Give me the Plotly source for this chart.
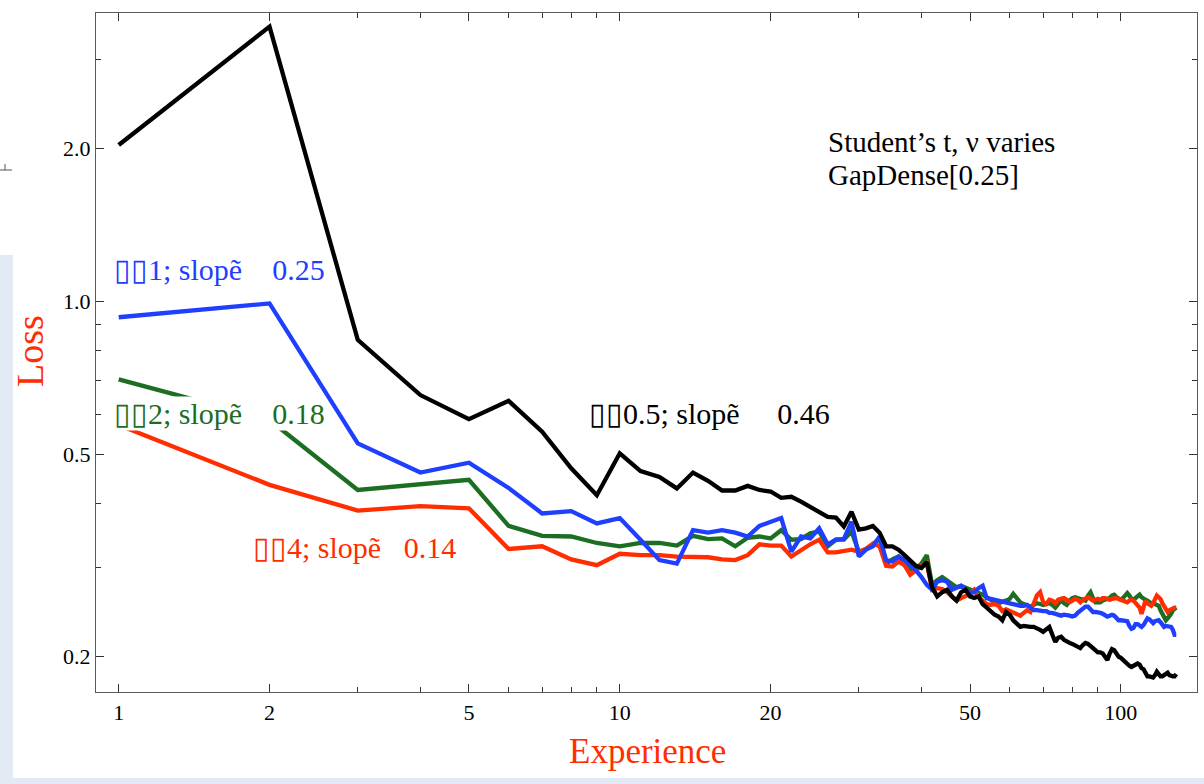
import plotly.graph_objects as go

# Loss curves versus experience, Student's t noise with varying degrees of freedom
nu_half = [
    2.035, 3.48, 0.841, 0.655, 0.587, 0.638, 0.555, 0.470, 0.416, 0.503,
    0.464, 0.452, 0.429, 0.461, 0.444, 0.425, 0.425, 0.434, 0.426, 0.423,
    0.411, 0.413, 0.404, 0.395, 0.386, 0.377, 0.376, 0.361, 0.386, 0.356,
    0.358, 0.362, 0.351, 0.330, 0.330, 0.325, 0.317, 0.310, 0.302, 0.299,
    0.307, 0.274, 0.263, 0.268, 0.271, 0.263, 0.258, 0.268, 0.271, 0.263,
    0.261, 0.263, 0.254, 0.250, 0.246, 0.242, 0.240, 0.236, 0.245, 0.242,
    0.236, 0.232, 0.229, 0.230, 0.229, 0.229, 0.229, 0.228, 0.226, 0.224,
    0.227, 0.229, 0.221, 0.214, 0.218, 0.219, 0.216, 0.214, 0.213, 0.212,
    0.211, 0.209, 0.208, 0.211, 0.213, 0.212, 0.210, 0.209, 0.207, 0.204,
    0.204, 0.203, 0.200, 0.197, 0.203, 0.207, 0.206, 0.203, 0.200, 0.199,
    0.197, 0.195, 0.194, 0.192, 0.191, 0.192, 0.194, 0.194, 0.193, 0.190,
    0.189, 0.186, 0.183, 0.183, 0.182, 0.182, 0.184, 0.187, 0.185, 0.183,
    0.183, 0.184, 0.185, 0.186, 0.184, 0.183, 0.183, 0.183, 0.185,
]
nu_one = [
    0.932, 0.992, 0.526, 0.461, 0.482, 0.430, 0.383, 0.387, 0.366, 0.375,
    0.340, 0.310, 0.305, 0.355, 0.351, 0.355, 0.351, 0.345, 0.362, 0.369,
    0.375, 0.322, 0.345, 0.342, 0.358, 0.333, 0.340, 0.341, 0.369, 0.315,
    0.325, 0.330, 0.345, 0.310, 0.308, 0.315, 0.310, 0.303, 0.296, 0.287,
    0.277, 0.271, 0.281, 0.283, 0.281, 0.271, 0.273, 0.276, 0.271, 0.267,
    0.268, 0.273, 0.276, 0.261, 0.260, 0.259, 0.258, 0.256, 0.255, 0.255,
    0.254, 0.253, 0.252, 0.252, 0.253, 0.250, 0.247, 0.247, 0.246, 0.246,
    0.246, 0.244, 0.244, 0.243, 0.241, 0.241, 0.242, 0.242, 0.241, 0.240,
    0.241, 0.244, 0.246, 0.248, 0.251, 0.251, 0.247, 0.245, 0.245, 0.245,
    0.244, 0.243, 0.241, 0.240, 0.241, 0.242, 0.241, 0.238, 0.236, 0.236,
    0.236, 0.236, 0.235, 0.230, 0.227, 0.228, 0.232, 0.232, 0.230, 0.229,
    0.231, 0.235, 0.238, 0.237, 0.234, 0.233, 0.235, 0.236, 0.236, 0.234,
    0.231, 0.229, 0.230, 0.230, 0.230, 0.229, 0.226, 0.221, 0.221,
]
nu_two = [
    0.703, 0.585, 0.426, 0.436, 0.446, 0.362, 0.346, 0.345, 0.335, 0.330,
    0.335, 0.335, 0.331, 0.346, 0.341, 0.342, 0.330, 0.343, 0.345, 0.342,
    0.355, 0.340, 0.341, 0.350, 0.353, 0.330, 0.340, 0.340, 0.353, 0.322,
    0.326, 0.333, 0.342, 0.305, 0.311, 0.315, 0.303, 0.298, 0.298, 0.305,
    0.317, 0.277, 0.283, 0.287, 0.282, 0.277, 0.274, 0.276, 0.274, 0.271,
    0.270, 0.267, 0.265, 0.262, 0.259, 0.256, 0.255, 0.256, 0.258, 0.260,
    0.266, 0.261, 0.256, 0.254, 0.252, 0.251, 0.253, 0.255, 0.254, 0.253,
    0.254, 0.255, 0.253, 0.250, 0.254, 0.259, 0.255, 0.253, 0.258, 0.261,
    0.262, 0.261, 0.261, 0.259, 0.258, 0.264, 0.268, 0.261, 0.256, 0.256,
    0.256, 0.258, 0.259, 0.259, 0.261, 0.264, 0.265, 0.262, 0.260, 0.259,
    0.261, 0.265, 0.267, 0.264, 0.260, 0.259, 0.261, 0.264, 0.265, 0.262,
    0.260, 0.259, 0.258, 0.256, 0.255, 0.255, 0.254, 0.253, 0.252, 0.247,
    0.243, 0.238, 0.236, 0.238, 0.240, 0.243, 0.247, 0.248, 0.250,
]
nu_four = [
    0.572, 0.436, 0.388, 0.396, 0.392, 0.326, 0.330, 0.311, 0.303, 0.319,
    0.317, 0.317, 0.315, 0.315, 0.314, 0.311, 0.310, 0.317, 0.333, 0.331,
    0.331, 0.315, 0.325, 0.333, 0.340, 0.321, 0.321, 0.323, 0.325, 0.322,
    0.326, 0.334, 0.330, 0.302, 0.301, 0.308, 0.303, 0.290, 0.296, 0.302,
    0.306, 0.271, 0.273, 0.272, 0.268, 0.262, 0.258, 0.261, 0.264, 0.266,
    0.271, 0.262, 0.258, 0.254, 0.253, 0.254, 0.252, 0.246, 0.248, 0.246,
    0.244, 0.243, 0.241, 0.244, 0.247, 0.245, 0.253, 0.264, 0.268, 0.256,
    0.254, 0.259, 0.258, 0.255, 0.259, 0.260, 0.261, 0.259, 0.256, 0.258,
    0.260, 0.259, 0.256, 0.259, 0.261, 0.262, 0.260, 0.258, 0.259, 0.260,
    0.259, 0.261, 0.261, 0.260, 0.259, 0.260, 0.261, 0.261, 0.260, 0.259,
    0.259, 0.258, 0.256, 0.258, 0.259, 0.258, 0.255, 0.252, 0.250, 0.243,
    0.252, 0.258, 0.255, 0.254, 0.252, 0.255, 0.260, 0.264, 0.262, 0.260,
    0.255, 0.251, 0.247, 0.245, 0.247, 0.248, 0.250, 0.250, 0.250,
]

x_major = [1, 2, 5, 10, 20, 50, 100]
x_minor = [3, 4, 6, 7, 8, 9, 30, 40, 60, 70, 80, 90]
y_major = [0.2, 0.5, 1.0, 2.0]
y_major_text = ["0.2", "0.5", "1.0", "2.0"]
y_minor = [0.3, 0.4, 0.6, 0.7, 0.8, 0.9, 3.0]

RED = "#ff2d00"
GREEN = "#1b6e22"
BLUE = "#1f3fff"
BLACK = "#000000"
SERIF = "Liberation Serif"

# drawing order: green, red, blue, black on top
series = [
    (nu_two, GREEN),
    (nu_four, RED),
    (nu_one, BLUE),
    (nu_half, BLACK),
]

fig = go.Figure()
for values, color in series:
    fig.add_trace(go.Scatter(
        x=list(range(1, len(values) + 1)), y=values, mode="lines",
        line=dict(color=color, width=4.3), showlegend=False, hoverinfo="skip",
    ))

W, H = 1204, 784
L, R, T, B = 96, 1197, 13, 692


def px(xp):
    return (xp - L) / (R - L)


def py(yp):
    return (B - yp) / (B - T)


axis_common = dict(
    type="log", showgrid=False, zeroline=False, showline=True,
    linecolor="#5a5a5a", linewidth=1.3, mirror="ticks",
    ticks="inside", ticklen=8, tickwidth=1, tickcolor="#333333",
    tickfont=dict(family=SERIF, size=22, color="black"),
)

fig.update_xaxes(
    **axis_common, range=[-0.0453, 2.152],
    tickmode="array", tickvals=x_major, ticktext=[str(v) for v in x_major],
    minor=dict(tickmode="array", tickvals=x_minor, ticks="inside", ticklen=5,
               tickcolor="#333333", tickwidth=1),
)
fig.update_yaxes(
    **axis_common, range=[-0.7683, 0.5683],
    tickmode="array", tickvals=y_major, ticktext=y_major_text,
    minor=dict(tickmode="array", tickvals=y_minor, ticks="inside", ticklen=5,
               tickcolor="#333333", tickwidth=1),
)

NB = "\u00a0"
labels = [
    ("\u25af\u25af1; slop\u1ebd" + NB * 3 + " 0.25", BLUE, 113, 269),
    ("\u25af\u25af2; slop\u1ebd" + NB * 3 + " 0.18", GREEN, 113, 413),
    ("\u25af\u25af0.5; slop\u1ebd" + NB * 4 + " 0.46", BLACK, 588, 413),
    ("\u25af\u25af4; slop\u1ebd" + NB * 2 + " 0.14", RED, 252, 547),
]
annotations = []
for text, color, xl, yc in labels:
    annotations.append(dict(
        text=text, xref="paper", yref="paper", x=px(xl), y=py(yc),
        xanchor="left", yanchor="middle", showarrow=False,
        font=dict(family=SERIF, size=30, color=color),
        bgcolor="white", borderpad=0,
    ))

annotations += [
    dict(text="Student\u2019s t, \u03bd varies", xref="paper", yref="paper",
         x=px(826), y=py(142), xanchor="left", yanchor="middle", showarrow=False,
         font=dict(family=SERIF, size=29, color="black")),
    dict(text="GapDense[0.25]", xref="paper", yref="paper",
         x=px(826), y=py(175), xanchor="left", yanchor="middle", showarrow=False,
         font=dict(family=SERIF, size=29, color="black")),
    dict(text="Loss", xref="paper", yref="paper", x=px(30), y=py(351),
         xanchor="center", yanchor="middle", textangle=-90, showarrow=False,
         font=dict(family=SERIF, size=38, color=RED)),
    dict(text="Experience", xref="paper", yref="paper", x=px(647), y=py(752),
         xanchor="center", yanchor="middle", showarrow=False,
         font=dict(family=SERIF, size=35, color=RED)),
]

PANEL = "#e3eaf3"
shapes = [
    dict(type="rect", xref="paper", yref="paper", layer="below",
         x0=px(0), x1=px(13), y0=py(784), y1=py(255),
         fillcolor=PANEL, line=dict(width=0)),
    dict(type="rect", xref="paper", yref="paper", layer="below",
         x0=px(0), x1=px(1204), y0=py(784), y1=py(778),
         fillcolor=PANEL, line=dict(width=0)),
    dict(type="line", xref="paper", yref="paper",
         x0=px(0), x1=px(12), y0=py(170), y1=py(170),
         line=dict(color="#555555", width=1)),
    dict(type="line", xref="paper", yref="paper",
         x0=px(5), x1=px(5), y0=py(164), y1=py(170),
         line=dict(color="#555555", width=1)),
]

fig.update_layout(
    width=W, height=H,
    margin=dict(l=L, r=W - R, t=T, b=H - B, autoexpand=False),
    paper_bgcolor="white", plot_bgcolor="white",
    annotations=annotations, shapes=shapes,
)

fig.write_html("out.html")
